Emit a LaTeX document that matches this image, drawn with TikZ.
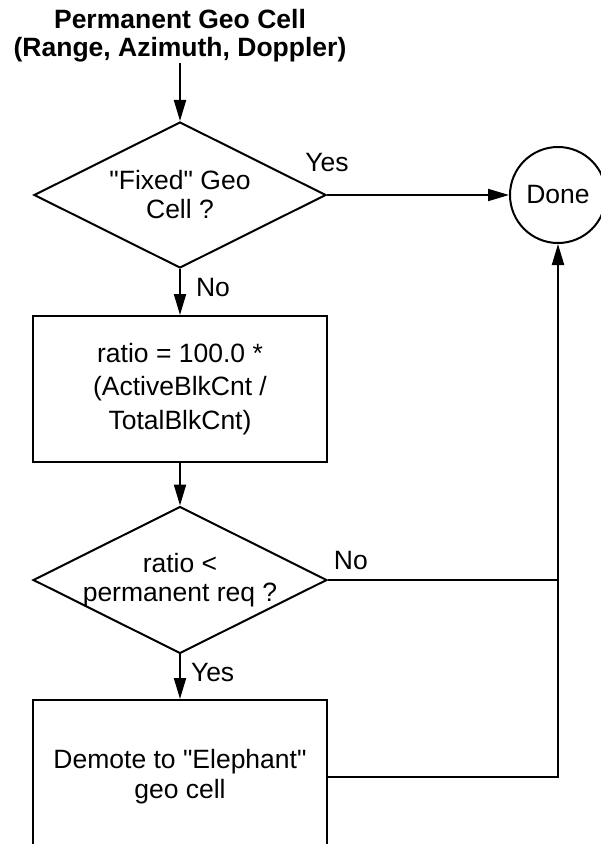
\documentclass[tikz,border=0pt]{standalone}
\usepackage{fontspec}
\setmainfont{Liberation Sans}
\usetikzlibrary{shapes.geometric,arrows.meta}

\begin{document}
\begin{tikzpicture}[x=1pt,y=-1pt,line width=2pt,
  flow/.style={-{Triangle[length=21pt,width=12pt]}},
  decision/.style={draw,shape=diamond,aspect=2,inner sep=0pt,inner xsep=-4pt,minimum width=292pt,minimum height=146pt,align=center,font=\fontsize{26.5}{29}\selectfont},
  stepbox/.style={draw,rectangle,minimum width=294pt,align=center,font=\fontsize{26.5}{33.5}\selectfont},
  lbl/.style={inner sep=0pt,font=\fontsize{26.5}{30}\selectfont}]

% Page frame (the last box runs off the bottom)
\useasboundingbox (0,0) rectangle (601,844);
\clip (0,0) rectangle (601,844);

% Input heading
\node[inner sep=0pt,align=center,font=\fontsize{26.5}{28}\selectfont\bfseries] (title) at (180,36) {Permanent Geo Cell\\(Range, Azimuth, Doppler)};

% Decisions, steps and the end
\node[decision] (fixed) at (180,195) {\textquotedbl Fixed\textquotedbl{} Geo\\Cell ?};
\node[draw,circle,minimum size=96pt,inner sep=0pt,font=\fontsize{26.5}{30}\selectfont] (done) at (558,195) {Done};
\node[stepbox,minimum height=146pt] (ratio) at (180,389) {ratio = 100.0 *\\(ActiveBlkCnt /\\TotalBlkCnt)};
\node[decision] (decide) at (180,580) {ratio <\\permanent req ?};
\node[stepbox,minimum height=154pt,font=\fontsize{26.5}{30}\selectfont] (demote) at (180,777) {Demote to \textquotedbl Elephant\textquotedbl\\geo cell};

% Heading into first test
\draw[flow] (title) -- (fixed);

% Fixed cell: straight to done
\draw[flow] (fixed) -- node[lbl,pos=0,above=22pt] {Yes} (done);
\draw[flow] (fixed) -- node[lbl,pos=0.4,right=15pt] {No} (ratio);

% Ratio into second test
\draw[flow] (ratio) -- (decide);

% Second test: No joins the return line, Yes demotes
\draw (decide.east) -- node[lbl,pos=0,anchor=south west,xshift=5pt,yshift=9pt] {No} (decide.east -| done.south);
\draw[flow] (decide) -- node[lbl,pos=0.4,right=10pt] {Yes} (demote);

% Return line up to done
\draw[flow] (demote.east) -| (done.south);

\end{tikzpicture}
\end{document}
